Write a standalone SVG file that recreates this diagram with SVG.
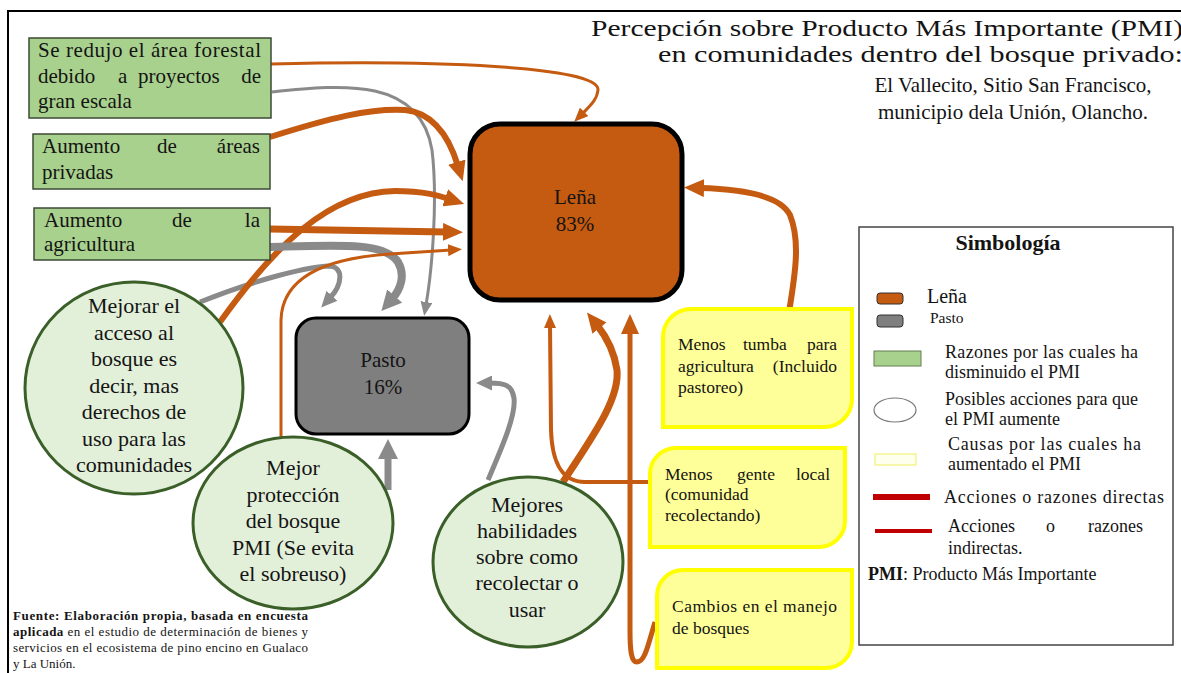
<svg xmlns="http://www.w3.org/2000/svg" width="1181" height="673" viewBox="0 0 1181 673" font-family="Liberation Serif, serif">
<style>
text{font-family:Liberation Serif,serif;fill:#141414}
.gb{fill:#a9d18e;stroke:#3d4a36;stroke-width:1.5}
.ci{fill:#e2efd9;stroke:#3b5f28;stroke-width:3}
.yb{fill:#ffff99;stroke:#ffff00;stroke-width:4}
.o{fill:none;stroke:#c55a11}
.g{fill:none;stroke:#8a8a8a}
.t20{font-size:21px}
.t22{font-size:22px;text-anchor:middle}
.ty{font-size:17.5px}
.tl{font-size:18px}
.tf{font-size:13px}
.e{text-anchor:end}
.m{text-anchor:middle}
</style>
<defs>
<marker id="oL" viewBox="0 0 20 18" markerWidth="20" markerHeight="18" refX="4" refY="9" orient="auto" markerUnits="userSpaceOnUse"><path d="M0,0 L20,9 L0,18 Z" fill="#c55a11"/></marker>
<marker id="oS" viewBox="0 0 14 12" markerWidth="14" markerHeight="12" refX="3" refY="6" orient="auto" markerUnits="userSpaceOnUse"><path d="M0,0 L14,6 L0,12 Z" fill="#c55a11"/></marker>
<marker id="gL" viewBox="0 0 20 20" markerWidth="20" markerHeight="20" refX="4" refY="10" orient="auto" markerUnits="userSpaceOnUse"><path d="M0,0 L20,10 L0,20 Z" fill="#8a8a8a"/></marker>
<marker id="gM" viewBox="0 0 16 15" markerWidth="16" markerHeight="15" refX="3" refY="7.5" orient="auto" markerUnits="userSpaceOnUse"><path d="M0,0 L16,7.5 L0,15 Z" fill="#8a8a8a"/></marker>
<marker id="gS" viewBox="0 0 14 12" markerWidth="14" markerHeight="12" refX="3" refY="6" orient="auto" markerUnits="userSpaceOnUse"><path d="M0,0 L14,6 L0,12 Z" fill="#8a8a8a"/></marker>
</defs>
<rect width="1181" height="673" fill="#ffffff"/>
<path d="M8,673 V11 H1181" fill="none" stroke="#000" stroke-width="2"/>

<g id="title">
<text x="591" y="36" font-size="24" textLength="592" lengthAdjust="spacingAndGlyphs">Percepción sobre Producto Más Importante (PMI)</text>
<text x="658" y="62" font-size="24" textLength="525" lengthAdjust="spacingAndGlyphs">en comunidades dentro del bosque privado:</text>
<text x="1013" y="92" font-size="21" class="m">El Vallecito, Sitio San Francisco,</text>
<text x="1013" y="119" font-size="21" class="m">municipio dela Unión, Olancho.</text>
</g>

<g id="connectors">
<path class="g" stroke-width="3" d="M272,92 C345,84 420,78 432,150 C438,200 432,270 426,305" marker-end="url(#gS)"/>
<path class="o" stroke-width="3" d="M271,64 C430,60 600,66 598,90 C597,100 590,106 582,114" marker-end="url(#oS)"/>
<path class="o" stroke-width="6" d="M270,137 C330,118 370,108 405,110 C435,113 450,140 458,166" marker-end="url(#oL)"/>
<path class="g" stroke-width="5" d="M200,302 C250,282 300,268 328,266 C345,266 342,285 330,298" marker-end="url(#gM)"/>
<path class="o" stroke-width="6" d="M220,322 C275,245 330,192 395,191 C425,191 440,196 449,199" marker-end="url(#oL)"/>
<path class="o" stroke-width="7" d="M270,229 L447,232" marker-end="url(#oL)"/>
<path class="g" stroke-width="8" d="M270,247 C340,245 385,242 398,262 C406,276 400,290 392,299" marker-end="url(#gL)"/>
<path class="o" stroke-width="3" d="M281,437 L281,320 C282,282 315,259 390,254 L451,250" marker-end="url(#oS)"/>
<path class="g" stroke-width="7" d="M388,490 L388,455" marker-end="url(#gL)"/>
<path class="g" stroke-width="5" d="M488,480 C503,445 516,415 514,398 C512,385 505,383 489,383" marker-end="url(#gM)"/>
<path class="o" stroke-width="6" d="M789,312 C796,270 800,240 790,215 C780,195 740,189 700,188" marker-end="url(#oL)"/>
<path class="o" stroke-width="4" d="M650,482 L585,482 C560,482 552,460 551,430 L550,325" marker-end="url(#oS)"/>
<path class="o" stroke-width="7" d="M563,482 C590,440 620,400 617,370 C614,350 605,335 597,325" marker-end="url(#oL)"/>
<path class="o" stroke-width="5" d="M655,622 C648,645 645,662 637,662 C631,662 630,650 630,630 L630,330" marker-end="url(#oL)"/>
</g>

<g id="box-reduccion">
<rect class="gb" x="29" y="38" width="242" height="80"/>
<text class="t20" x="38" y="57" textLength="223" lengthAdjust="spacing">Se redujo el área forestal</text>
<text class="t20" x="38" y="83">debido</text>
<text class="t20" x="118" y="83">a</text>
<text class="t20" x="138" y="83">proyectos</text>
<text class="t20 e" x="261" y="83">de</text>
<text class="t20" x="38" y="108">gran escala</text>
</g>
<g id="box-privadas">
<rect class="gb" x="33" y="134" width="237" height="55"/>
<text class="t20" x="42" y="153">Aumento</text>
<text class="t20" x="157" y="153">de</text>
<text class="t20 e" x="260" y="153">áreas</text>
<text class="t20" x="42" y="179">privadas</text>
</g>
<g id="box-agricultura">
<rect class="gb" x="34" y="208" width="236" height="52"/>
<text class="t20" x="44" y="227">Aumento</text>
<text class="t20" x="172" y="227">de</text>
<text class="t20 e" x="260" y="227">la</text>
<text class="t20" x="44" y="251">agricultura</text>
</g>

<g id="lena">
<rect x="470" y="124" width="212" height="176" rx="30" fill="#c55a11" stroke="#000" stroke-width="5"/>
<text x="575" y="204" font-size="21" class="m">Leña</text>
<text x="575" y="231" font-size="21" class="m">83%</text>
</g>
<g id="pasto">
<rect x="296" y="318" width="173" height="116" rx="20" fill="#7f7f7f" stroke="#000" stroke-width="3"/>
<text x="383" y="367" font-size="21" class="m">Pasto</text>
<text x="383" y="394" font-size="21" class="m">16%</text>
</g>

<g id="c-acceso">
<ellipse class="ci" cx="134" cy="388" rx="109" ry="106"/>
<text class="t22" x="134" y="313">Mejorar el</text>
<text class="t22" x="134" y="340">acceso al</text>
<text class="t22" x="134" y="366">bosque es</text>
<text class="t22" x="134" y="393">decir, mas</text>
<text class="t22" x="134" y="419">derechos de</text>
<text class="t22" x="134" y="446">uso para las</text>
<text class="t22" x="134" y="472">comunidades</text>
</g>
<g id="c-proteccion">
<ellipse class="ci" cx="293" cy="523" rx="100" ry="86"/>
<text class="t22" x="293" y="475">Mejor</text>
<text class="t22" x="293" y="502">protección</text>
<text class="t22" x="293" y="528">del bosque</text>
<text class="t22" x="293" y="555">PMI (Se evita</text>
<text class="t22" x="293" y="581">el sobreuso)</text>
</g>
<g id="c-habilidades">
<ellipse class="ci" cx="528" cy="562" rx="95" ry="85"/>
<text class="t22" x="527" y="512">Mejores</text>
<text class="t22" x="527" y="538">habilidades</text>
<text class="t22" x="527" y="564">sobre como</text>
<text class="t22" x="527" y="590">recolectar o</text>
<text class="t22" x="527" y="617">usar</text>
</g>

<g id="y-tumba">
<path class="yb" d="M691,309 H852 V399 A28,28 0 0 1 824,427 H663 V337 A28,28 0 0 1 691,309 Z"/>
<text class="ty" x="678" y="350">Menos</text>
<text class="ty" x="743" y="350">tumba</text>
<text class="ty e" x="837" y="350">para</text>
<text class="ty" x="678" y="372">agricultura</text>
<text class="ty e" x="837" y="372">(Incluido</text>
<text class="ty" x="678" y="393">pastoreo)</text>
</g>
<g id="y-gente">
<path class="yb" d="M676,448 H845 V521 A26,26 0 0 1 819,547 H650 V474 A26,26 0 0 1 676,448 Z"/>
<text class="ty" x="665" y="480">Menos</text>
<text class="ty" x="737" y="480">gente</text>
<text class="ty e" x="830" y="480">local</text>
<text class="ty" x="665" y="500">(comunidad</text>
<text class="ty" x="665" y="521">recolectando)</text>
</g>
<g id="y-cambios">
<path class="yb" d="M683,570 H852 V642 A26,26 0 0 1 826,668 H657 V596 A26,26 0 0 1 683,570 Z"/>
<text class="ty" x="672" y="612" textLength="165" lengthAdjust="spacing">Cambios en el manejo</text>
<text class="ty" x="672" y="634">de bosques</text>
</g>

<g id="legend">
<rect x="859" y="227" width="314" height="418" fill="#fff" stroke="#444" stroke-width="1.5"/>
<text x="1008" y="250" font-size="22" font-weight="bold" class="m">Simbología</text>
<rect x="877" y="293" width="26" height="11" rx="3" fill="#c55a11" stroke="#333" stroke-width="1"/>
<text x="927" y="303" font-size="20">Leña</text>
<rect x="877" y="315" width="26" height="12" rx="3" fill="#7f7f7f" stroke="#333" stroke-width="1"/>
<text x="930" y="323" font-size="15.5">Pasto</text>
<rect x="874" y="351" width="47" height="15" fill="#a9d18e" stroke="#5f7f50" stroke-width="1"/>
<text class="tl" x="945" y="358" textLength="193" lengthAdjust="spacing">Razones por las cuales ha</text>
<text class="tl" x="945" y="378">disminuido el PMI</text>
<ellipse cx="895" cy="410" rx="21" ry="12" fill="#fff" stroke="#777" stroke-width="1.2"/>
<text class="tl" x="945" y="405" textLength="193" lengthAdjust="spacing">Posibles acciones para que</text>
<text class="tl" x="945" y="425">el PMI aumente</text>
<rect x="875" y="454" width="41" height="11" fill="#ffffee" stroke="#f2f27a" stroke-width="1.2"/>
<text class="tl" x="948" y="450" textLength="193" lengthAdjust="spacing">Causas por las cuales ha</text>
<text class="tl" x="948" y="470">aumentado el PMI</text>
<line x1="873" y1="497" x2="930" y2="497" stroke="#c00000" stroke-width="6"/>
<text class="tl" x="944" y="503" textLength="220" lengthAdjust="spacing">Acciones o razones directas</text>
<line x1="875" y1="531" x2="932" y2="531" stroke="#c00000" stroke-width="4"/>
<text class="tl" x="948" y="532">Acciones</text>
<text class="tl" x="1046" y="532">o</text>
<text class="tl e" x="1143" y="532">razones</text>
<text class="tl" x="948" y="554">indirectas.</text>
<text class="tl" x="868" y="580"><tspan font-weight="bold">PMI</tspan>: Producto Más Importante</text>
</g>

<g id="fuente">
<text class="tf" x="13" y="620" font-weight="bold" textLength="295" lengthAdjust="spacing">Fuente: Elaboración propia, basada en encuesta</text>
<text class="tf" x="13" y="636" textLength="295" lengthAdjust="spacing"><tspan font-weight="bold">aplicada</tspan> en el estudio de determinación de bienes y</text>
<text class="tf" x="13" y="652" textLength="295" lengthAdjust="spacing">servicios en el ecosistema de pino encino en Gualaco</text>
<text class="tf" x="13" y="668">y La Unión.</text>
</g>
</svg>
